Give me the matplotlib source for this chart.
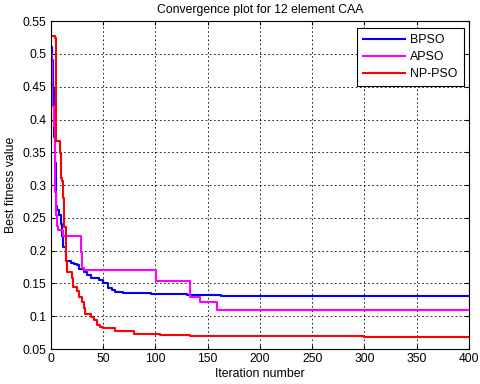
import matplotlib
matplotlib.use("Agg")
import matplotlib.pyplot as plt

# step breakpoints (iteration, best fitness)
bpso_it = [0, 1, 2, 3, 4, 5, 6, 8, 10, 11, 12, 14, 19, 22, 25, 27, 32, 35, 38, 46, 50, 55, 58, 61, 69, 96, 130, 163, 400]
bpso_val = [0.511, 0.49, 0.446, 0.374, 0.334, 0.268, 0.262, 0.254, 0.241, 0.222, 0.205, 0.184, 0.181, 0.179, 0.178,
            0.172, 0.168, 0.163, 0.158, 0.155, 0.151, 0.143, 0.140, 0.137, 0.135, 0.134, 0.133, 0.131, 0.131]

apso_it = [0, 1.5, 3, 3.5, 4, 5, 6, 7, 12, 29, 30, 32, 101, 133, 143, 159, 400]
apso_val = [0.50, 0.42, 0.39, 0.34, 0.29, 0.255, 0.238, 0.231, 0.223, 0.198, 0.173, 0.170, 0.154, 0.130, 0.122,
            0.1095, 0.1095]

nppso_it = [0, 4, 5, 9, 10, 11, 12, 13, 14, 15, 20, 21, 25, 27, 30, 32, 33, 38, 41, 44, 47, 50, 61, 71, 80, 104,
            133, 300, 400]
nppso_val = [0.528, 0.524, 0.367, 0.349, 0.311, 0.306, 0.28, 0.236, 0.184, 0.168, 0.158, 0.145, 0.138, 0.130,
             0.122, 0.112, 0.103, 0.099, 0.094, 0.087, 0.083, 0.082, 0.078, 0.077, 0.073, 0.072, 0.0693, 0.068, 0.068]

x_ticks = [0, 50, 100, 150, 200, 250, 300, 350, 400]
y_ticks = [0.05, 0.1, 0.15, 0.2, 0.25, 0.3, 0.35, 0.4, 0.45, 0.5, 0.55]
y_labels = ["0.05", "0.1", "0.15", "0.2", "0.25", "0.3", "0.35", "0.4", "0.45", "0.5", "0.55"]

plt.rcParams['font.family'] = ['Liberation Sans', 'DejaVu Sans']

fig = plt.figure(figsize=(4.8, 3.84), dpi=100)
ax = fig.add_axes([0.106, 0.091, 0.871, 0.854])

ax.plot(bpso_it, bpso_val, color='#0000ff', lw=1.5, drawstyle='steps-post', label='BPSO')
ax.plot(apso_it, apso_val, color='#ff00ff', lw=1.5, drawstyle='steps-post', label='APSO')
ax.plot(nppso_it, nppso_val, color='#ff0000', lw=1.5, drawstyle='steps-post', label='NP-PSO')

ax.set_xlim(0, 400)
ax.set_ylim(0.05, 0.55)
ax.set_xticks(x_ticks)
ax.set_yticks(y_ticks)
ax.set_yticklabels(y_labels)
ax.tick_params(direction='in', labelsize=8.7, length=3, pad=3, top=True, right=True)
ax.grid(True, linestyle=(0, (2, 3)), color='black', lw=0.6)

ax.set_title('Convergence plot for 12 element CAA', fontsize=8.8, pad=6)
ax.set_xlabel('Iteration number', fontsize=8.8, labelpad=2)
ax.set_ylabel('Best fitness value', fontsize=8.8, labelpad=4)

leg = ax.legend(loc='upper right', bbox_to_anchor=(0.988, 0.979), borderaxespad=0, fontsize=8.9,
                fancybox=False, edgecolor='black', framealpha=1, handlelength=3.4, handletextpad=0.4,
                borderpad=0.5, labelspacing=0.4)
leg.get_frame().set_linewidth(0.8)

fig.savefig('out.png', dpi=100)
